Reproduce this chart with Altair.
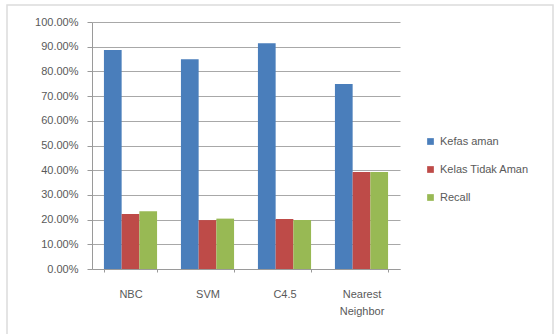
import altair as alt
import pandas as pd

categories = ["NBC", "SVM", "C4.5", "Nearest Neighbor"]
series = ["Kefas aman", "Kelas Tidak Aman", "Recall"]
kefas_aman = [0.887, 0.849, 0.914, 0.749]
kelas_tidak_aman = [0.223, 0.198, 0.202, 0.393]
recall = [0.234, 0.204, 0.198, 0.393]
colors = ["#4A7EBB", "#BE4B48", "#98B954"]

rows = []
for i, c in enumerate(categories):
    for s, vals in zip(series, [kefas_aman, kelas_tidak_aman, recall]):
        rows.append({"cat": c, "series": s, "value": vals[i]})
df = pd.DataFrame(rows)

font = "Liberation Sans"
bars = alt.Chart(df).mark_bar().encode(
    x=alt.X("cat:N", sort=categories, title=None,
            scale=alt.Scale(paddingInner=0.31, paddingOuter=0.155),
            axis=alt.Axis(labelAngle=0, labelPadding=16, tickBand="extent", tickSize=3,
                          labelExpr="split(datum.label, ' ')", labelLineHeight=17,
                          labelFontSize=11, domainColor="#9a9a9a", tickColor="#9a9a9a")),
    xOffset=alt.XOffset("series:N", sort=series),
    y=alt.Y("value:Q", title=None,
            scale=alt.Scale(domain=[0, 1]),
            axis=alt.Axis(format=".2%", values=[i / 10 for i in range(11)], tickSize=5,
                          labelPadding=9, labelFontSize=11, gridColor="#a8a8a8",
                          domainColor="#9a9a9a", tickColor="#9a9a9a")),
    color=alt.Color("series:N", sort=series,
                    scale=alt.Scale(domain=series, range=colors),
                    legend=alt.Legend(title=None, orient="none", legendX=333, legendY=114,
                                      symbolType="square", symbolSize=45, rowPadding=16,
                                      labelFontSize=11, symbolStrokeWidth=0)),
)

frame = alt.Chart(pd.DataFrame({"f": [0]})).mark_rect(
    fill=None, stroke="#dcdcdc", strokeWidth=1.5, clip=False
).encode(
    x=alt.value(-85), x2=alt.value(461), y=alt.value(-17), y2=alt.value(340)
)

chart = alt.layer(frame, bars).properties(
    width=308, height=247,
    autosize=alt.AutoSizeParams(type="none"),
    padding={"left": 92, "top": 22, "right": 158, "bottom": 65},
).configure_view(stroke=None).configure_axis(
    labelFont=font, labelColor="#595959", grid=True,
).configure_axisX(grid=False).configure_legend(
    labelFont=font, labelColor="#595959"
)

chart.save("out.html", embed_options={"renderer": "svg", "actions": False})
